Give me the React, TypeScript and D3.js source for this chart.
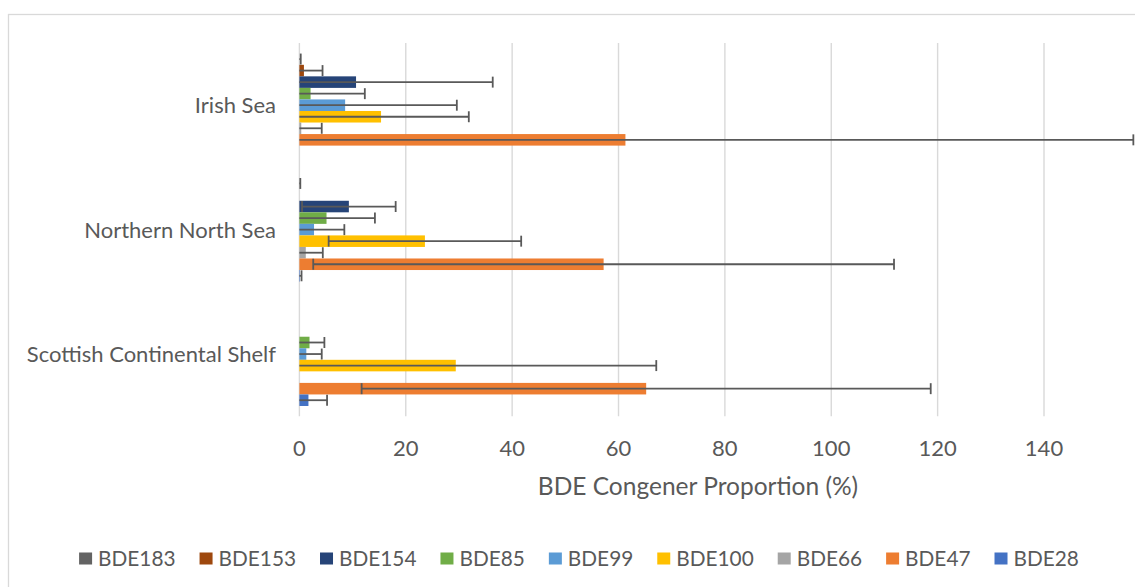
import React from "react";
import * as d3 from "d3";

const categories = ["Irish Sea", "Northern North Sea", "Scottish Continental Shelf"];
const seriesNames = ["BDE183", "BDE153", "BDE154", "BDE85", "BDE99", "BDE100", "BDE66", "BDE47", "BDE28"];
const seriesColors = ["#636363", "#9E480E", "#264478", "#70AD47", "#5B9BD5", "#FFC000", "#A5A5A5", "#ED7D31", "#4472C4"];

// values per series, in category order [Irish Sea, Northern North Sea, Scottish Continental Shelf]
const bde183 = [0, 0, 0];
const bde183Err = [0.25, 0.17, 0];
const bde153 = [0.85, 0, 0];
const bde153Err = [3.5, 0, 0];
const bde154 = [10.65, 9.3, 0];
const bde154Err = [25.7, 8.8, 0];
const bde85 = [2.1, 5.1, 1.9];
const bde85Err = [10.2, 9.1, 2.8];
const bde99 = [8.6, 2.75, 1.3];
const bde99Err = [21.0, 5.7, 2.9];
const bde100 = [15.35, 23.6, 29.4];
const bde100Err = [16.5, 18.1, 37.7];
const bde66 = [0.35, 1.2, 0];
const bde66Err = [3.85, 3.2, 0];
const bde47 = [61.3, 57.2, 65.2];
const bde47Err = [95.5, 54.6, 53.5];
const bde28 = [0, 0.1, 1.7];
const bde28Err = [0, 0.3, 3.5];

const xTicks = [0, 20, 40, 60, 80, 100, 120, 140];
const xTitle = "BDE Congener Proportion (%)";

const seriesValues = [bde183, bde153, bde154, bde85, bde99, bde100, bde66, bde47, bde28];
const seriesErrors = [bde183Err, bde153Err, bde154Err, bde85Err, bde99Err, bde100Err, bde66Err, bde47Err, bde28Err];

const W = 1135;
const H = 587;
const FONT = "Lato, 'Liberation Sans', sans-serif";
const TEXT = "#595959";

function measure(text: string, size: number) {
  if (typeof document === "undefined") return text.length * size * 0.55;
  const c = document.createElement("canvas").getContext("2d");
  if (!c) return text.length * size * 0.55;
  c.font = `${size}px Lato`;
  return c.measureText(text).width;
}

export default function App() {
  const x = d3.scaleLinear().domain([0, 140]).range([299.4, 1044]);
  const yCat = d3
    .scaleBand<string>()
    .domain(categories)
    .range([43, 416.25])
    .paddingInner(0.165)
    .paddingOuter(0.0825);
  const ySer = d3.scaleBand<string>().domain(seriesNames).range([0, yCat.bandwidth()]);

  const labelSize = 22;
  const legendSize = 20.8;
  const swatch = 13;
  const widths = seriesNames.map((s) => measure(s, legendSize));
  const itemW = widths.map((w) => swatch + 6 + w);
  const gap = 24;
  const total = itemW.reduce((a, b) => a + b, 0) + gap * (seriesNames.length - 1);
  let cursor = 579 - total / 2;
  const legendX = itemW.map((w) => {
    const p = cursor;
    cursor += w + gap;
    return p;
  });

  const capH = ySer.bandwidth() * 0.95;

  return (
    <svg
      width={W}
      height={H}
      style={{ position: "fixed", left: 0, top: 0, background: "#fff" }}
      fontFamily={FONT}
    >
      <rect x={8.5} y={14.5} width={1200} height={700} fill="#fff" stroke="#D9D9D9" strokeWidth={1.3} />
      {/* gridlines */}
      {xTicks.map((t) => (
        <line key={t} x1={x(t)} x2={x(t)} y1={43} y2={416.25} stroke="#D9D9D9" strokeWidth={1.4} />
      ))}
      {/* bars */}
      {categories.map((cat, ci) =>
        seriesNames.map((s, si) => {
          const v = seriesValues[si][ci];
          if (!v) return null;
          const y = (yCat(cat) as number) + (ySer(s) as number);
          return (
            <rect
              key={cat + s}
              x={x(0)}
              y={y}
              width={x(v) - x(0)}
              height={ySer.bandwidth()}
              fill={seriesColors[si]}
            />
          );
        })
      )}
      {/* error bars */}
      {categories.map((cat, ci) =>
        seriesNames.map((s, si) => {
          const v = seriesValues[si][ci];
          const e = seriesErrors[si][ci];
          if (!e) return null;
          const yc = (yCat(cat) as number) + (ySer(s) as number) + ySer.bandwidth() / 2;
          const lo = v - e;
          const hi = v + e;
          const x0 = x(Math.max(0, lo));
          const x1 = x(hi);
          return (
            <g key={"e" + cat + s} stroke="#595959" strokeWidth={1.8}>
              <line x1={x0} x2={x1} y1={yc} y2={yc} />
              <line x1={x1} x2={x1} y1={yc - capH / 2} y2={yc + capH / 2} />
              {lo >= 0 && <line x1={x0} x2={x0} y1={yc - capH / 2} y2={yc + capH / 2} />}
            </g>
          );
        })
      )}
      {/* category labels */}
      {categories.map((cat) => (
        <text
          key={cat}
          x={276}
          y={(yCat(cat) as number) + yCat.bandwidth() / 2 + labelSize * 0.36}
          textAnchor="end"
          fontSize={labelSize}
          fill={TEXT}
        >
          {cat}
        </text>
      ))}
      {/* tick labels */}
      {xTicks.map((t) => (
        <text key={"t" + t} x={x(t)} y={455.7} textAnchor="middle" fontSize={labelSize} fill={TEXT}>
          {t}
        </text>
      ))}
      <text x={698} y={495} textAnchor="middle" fontSize={24.5} fill={TEXT}>
        {xTitle}
      </text>
      {/* legend */}
      {seriesNames.map((s, i) => (
        <g key={"l" + s}>
          <rect x={legendX[i]} y={552.5} width={swatch} height={12} fill={seriesColors[i]} />
          <text x={legendX[i] + swatch + 6} y={565.5} fontSize={legendSize} fill={TEXT}>
            {s}
          </text>
        </g>
      ))}
    </svg>
  );
}
